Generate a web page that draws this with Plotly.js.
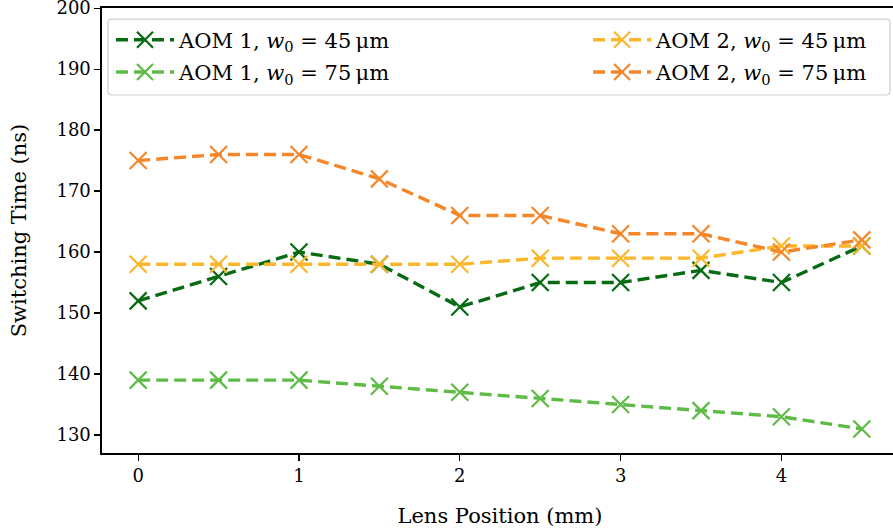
<!DOCTYPE html>
<html>
<head>
<meta charset="utf-8">
<script src="https://cdn.plot.ly/plotly-3.0.1.min.js"></script>
<style>
  html, body { margin: 0; padding: 0; overflow: hidden; background: #fff; }
  #chart { width: 900px; height: 530px; }
</style>
</head>
<body>
<div id="chart"></div>
<script>
// Lens position (mm)
const lensPosition = [0, 0.5, 1, 1.5, 2, 2.5, 3, 3.5, 4, 4.5];

// Switching times (ns)
const aom1_w45 = [152, 156, 160, 158, 151, 155, 155, 157, 155, 161];
const aom1_w75 = [139, 139, 139, 138, 137, 136, 135, 134, 133, 131];
const aom2_w45 = [158, 158, 158, 158, 158, 159, 159, 159, 161, 161];
const aom2_w75 = [175, 176, 176, 172, 166, 166, 163, 163, 160, 162];

const yTicks = [130, 140, 150, 160, 170, 180, 190, 200];
const xTicks = [0, 1, 2, 3, 4];

const seriesNames = [
  'AOM 1, <i>w</i><sub>0</sub> = 45\u2009μm',
  'AOM 1, <i>w</i><sub>0</sub> = 75\u2009μm',
  'AOM 2, <i>w</i><sub>0</sub> = 45\u2009μm',
  'AOM 2, <i>w</i><sub>0</sub> = 75\u2009μm'
];
const seriesColors = ['#066b12', '#5dbb46', '#fbb62a', '#f5862a'];
const seriesValues = [aom1_w45, aom1_w75, aom2_w45, aom2_w75];
const seriesLegend = ['legend', 'legend', 'legend2', 'legend2'];

const FONT = 'DejaVu Serif, Liberation Serif, serif';

const traces = seriesValues.map((ys, i) => ({
  x: lensPosition,
  y: ys,
  name: seriesNames[i],
  legend: seriesLegend[i],
  legendgroup: 'g' + i,
  type: 'scatter',
  mode: 'lines+markers',
  line: { color: seriesColors[i], width: 3.4, dash: '12px,6px' },
  marker: {
    symbol: 'x-thin',
    size: 17,
    color: seriesColors[i],
    line: { color: seriesColors[i], width: 2.2 }
  }
}));

// Legend frame (paper coordinates), rounded corners
const fx0 = 0.0075, fx1 = 0.990, fy0 = 0.8045, fy1 = 0.975;
const rx = 0.005, ry = 0.009;
const framePath =
  `M ${fx0 + rx},${fy1} L ${fx1 - rx},${fy1} Q ${fx1},${fy1} ${fx1},${fy1 - ry} ` +
  `L ${fx1},${fy0 + ry} Q ${fx1},${fy0} ${fx1 - rx},${fy0} ` +
  `L ${fx0 + rx},${fy0} Q ${fx0},${fy0} ${fx0},${fy0 + ry} ` +
  `L ${fx0},${fy1 - ry} Q ${fx0},${fy1} ${fx0 + rx},${fy1} Z`;

const legendCommon = {
  orientation: 'v',
  xanchor: 'left', yanchor: 'top',
  bgcolor: 'rgba(0,0,0,0)',
  borderwidth: 0,
  font: { family: FONT, size: 21, color: '#000' },
  tracegroupgap: 2,
  itemwidth: 58
};

const layout = {
  width: 900,
  height: 530,
  margin: { l: 102, r: 2, t: 8, b: 77 },
  paper_bgcolor: '#fff',
  plot_bgcolor: '#fff',
  font: { family: FONT, size: 19, color: '#000' },
  showlegend: true,
  legend: Object.assign({}, legendCommon, { x: 0.0113, y: 0.974 }),
  legend2: Object.assign({}, legendCommon, { x: 0.6106, y: 0.974 }),
  shapes: [{
    type: 'path', xref: 'paper', yref: 'paper', path: framePath,
    line: { color: '#cfcfcf', width: 1.2 },
    fillcolor: 'rgba(255,255,255,0.8)',
    layer: 'below'
  }],
  xaxis: {
    range: [-0.225, 4.725],
    tickvals: xTicks,
    ticks: 'outside', ticklen: 6, tickwidth: 1.2, tickcolor: '#000',
    showline: true, linecolor: '#000', linewidth: 1.6, mirror: true,
    showgrid: false, zeroline: false,
    tickfont: { family: FONT, size: 18 },
    title: { text: 'Lens Position (mm)', font: { family: FONT, size: 21 }, standoff: 23 }
  },
  yaxis: {
    range: [127.05, 200.02],
    tickvals: yTicks,
    ticklabeloverflow: 'allow',
    ticks: 'outside', ticklen: 6, tickwidth: 1.2, tickcolor: '#000',
    showline: true, linecolor: '#000', linewidth: 1.6, mirror: true,
    showgrid: false, zeroline: false,
    tickfont: { family: FONT, size: 18 },
    title: { text: 'Switching Time (ns)', font: { family: FONT, size: 21 }, standoff: 24 }
  }
};

Plotly.newPlot('chart', traces, layout, { displayModeBar: false, staticPlot: true });
</script>
</body>
</html>
